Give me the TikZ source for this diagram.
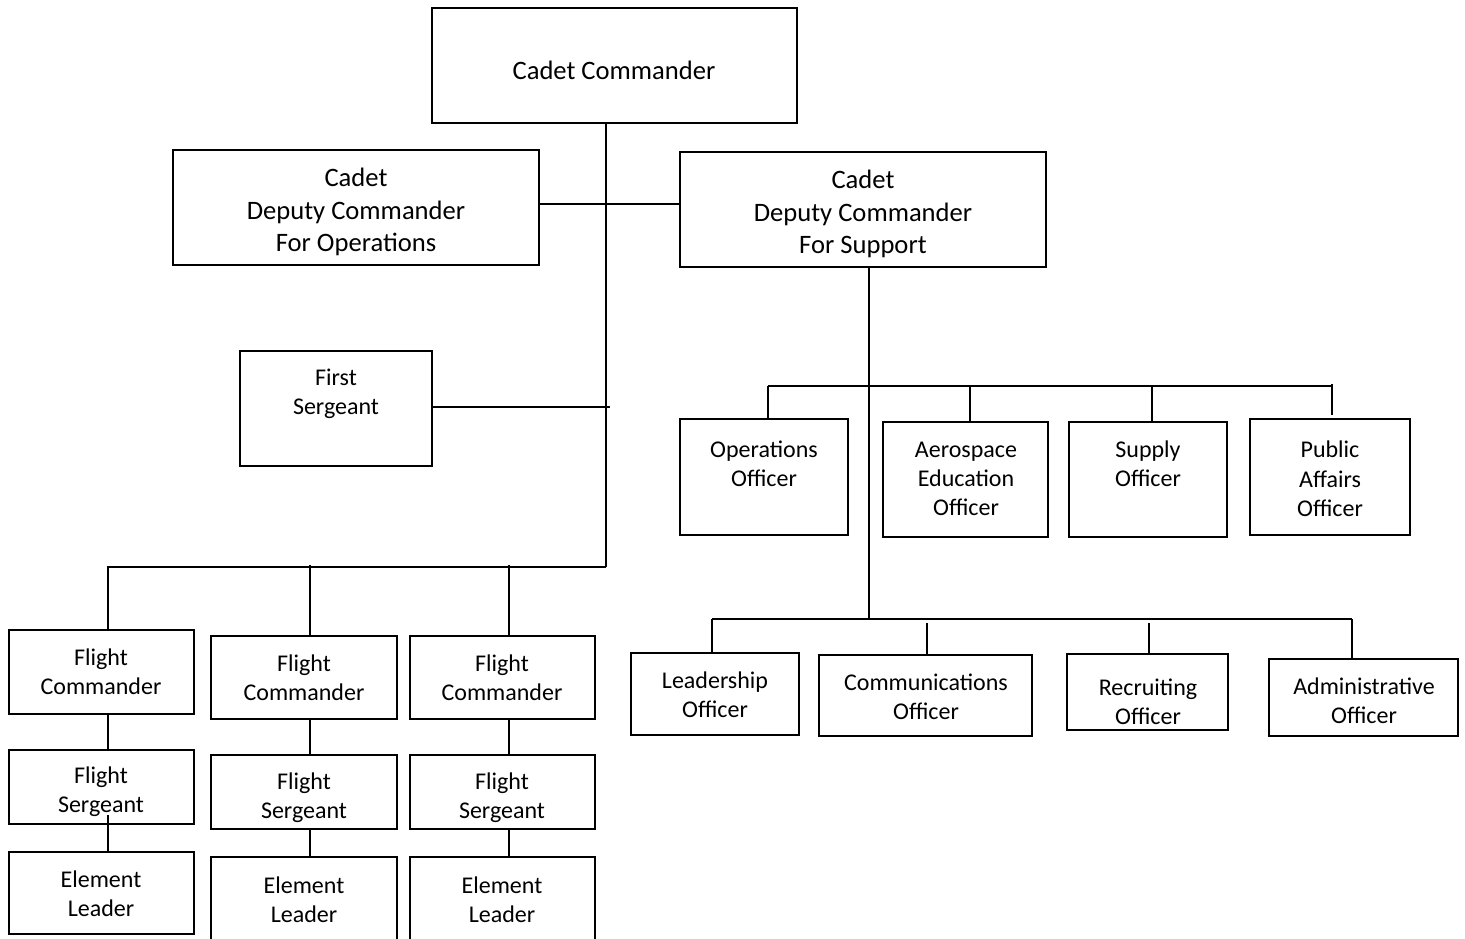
\documentclass[tikz,border=0pt]{standalone}
\usepackage{fontspec}
\setmainfont{Carlito}
\begin{document}
\begin{tikzpicture}[x=1pt,y=-1pt,
  box/.style={draw=black,line width=2pt,fill=white,inner sep=0pt},
  big/.style={font=\fontsize{26.6}{32.5}\selectfont,align=center,inner sep=0pt},
  sml/.style={font=\fontsize{24}{29.3}\selectfont,align=center,inner sep=0pt},
  link/.style={line width=2pt,draw=black}]
\useasboundingbox (0,0) rectangle (1465,938);
% junction coordinates
\coordinate (j1) at (606,204);
\coordinate (j2) at (610,407);
\coordinate (j3) at (606,567);
\coordinate (j4) at (107,567);
\coordinate (s1) at (869,386);
\coordinate (s2) at (869,619);
\coordinate (s3) at (768,386);
\coordinate (s4) at (1332,386);
\coordinate (s5) at (712,619);
\coordinate (s6) at (1352,619);
% boxes
\node[box,minimum width=365pt,minimum height=115pt] (cc) at (614.5,65.5) {};
\node[box,minimum width=366pt,minimum height=115pt] (dops) at (356,207.5) {};
\node[box,minimum width=366pt,minimum height=115pt] (dsup) at (863,209.5) {};
\node[box,minimum width=192pt,minimum height=115pt] (fs) at (336,408.5) {};
\node[box,minimum width=168pt,minimum height=116pt] (opo) at (764,477) {};
\node[box,minimum width=165pt,minimum height=115pt] (aeo) at (965.5,479.5) {};
\node[box,minimum width=158pt,minimum height=115pt] (spo) at (1148,479.5) {};
\node[box,minimum width=160pt,minimum height=116pt] (pao) at (1330,477) {};
\node[box,minimum width=168pt,minimum height=82pt] (ldo) at (715,694) {};
\node[box,minimum width=213pt,minimum height=81pt] (cmo) at (925.5,695.5) {};
\node[box,minimum width=161pt,minimum height=76pt] (rco) at (1147.5,692) {};
\node[box,minimum width=189pt,minimum height=77pt] (ado) at (1363.5,697.5) {};
\node[box,minimum width=185pt,minimum height=84pt] (fc1) at (101.5,672) {};
\node[box,minimum width=186pt,minimum height=83pt] (fc2) at (304,677.5) {};
\node[box,minimum width=185pt,minimum height=83pt] (fc3) at (502.5,677.5) {};
\node[box,minimum width=185pt,minimum height=74pt] (fs1) at (101.5,787) {};
\node[box,minimum width=186pt,minimum height=74pt] (fs2) at (304,792) {};
\node[box,minimum width=185pt,minimum height=74pt] (fs3) at (502.5,792) {};
\node[box,minimum width=185pt,minimum height=82pt] (el1) at (101.5,893) {};
\node[box,minimum width=186pt,minimum height=93pt] (el2) at (304,903.5) {};
\node[box,minimum width=185pt,minimum height=93pt] (el3) at (502.5,903.5) {};
% texts
\node[big] (cct) at (614,70) {Cadet Commander};
\node[big] (dopst) at (356,212) {Cadet\\Deputy Commander\\For Operations};
\node[big] (dsupt) at (863,214) {Cadet\\Deputy Commander\\For Support};
\node[sml] (fst) at (336,394) {First\\Sergeant};
\node[sml] (opot) at (764,464) {Operations\\Officer};
\node[sml] (aeot) at (966,479) {Aerospace\\Education\\Officer};
\node[sml] (spot) at (1148,464) {Supply\\Officer};
\node[sml] (paot) at (1330,479) {Public\\Affairs\\Officer};
\node[sml] (ldot) at (715,695) {Leadership\\Officer};
\node[sml] (cmot) at (926,697) {Communications\\Officer};
\node[sml] (rcot) at (1148,702) {Recruiting\\Officer};
\node[sml] (adot) at (1364,701) {Administrative\\Officer};
\node[sml] (fc1t) at (101,672) {Flight\\Commander};
\node[sml] (fc2t) at (304,678) {Flight\\Commander};
\node[sml] (fc3t) at (502,678) {Flight\\Commander};
\node[sml] (fs1t) at (101,792) {Flight\\Sergeant};
\node[sml] (fs2t) at (304,798) {Flight\\Sergeant};
\node[sml] (fs3t) at (502,798) {Flight\\Sergeant};
\node[sml] (el1t) at (101,894) {Element\\Leader};
\node[sml] (el2t) at (304,900) {Element\\Leader};
\node[sml] (el3t) at (502,900) {Element\\Leader};
% left trunk
\draw[link] (cc.south -| j3) -- (j3);
\draw[link] (dops.east |- j1) -- (dsup.west |- j1);
\draw[link] (fs.east |- j2) -- (j2);
\draw[link] (j3) -- (j4);
\draw[link] (108,567) -- (fc1.north -| 108,0);
\draw[link] (310,565) -- (fc2.north -| 310,0);
\draw[link] (509,565) -- (fc3.north -| 509,0);
\draw[link] (fc1.south -| 108,0) -- (fs1.north -| 108,0);
\draw[link] (108,815) -- (el1.north -| 108,0);
\draw[link] (fc2.south -| 310,0) -- (fs2.north -| 310,0);
\draw[link] (fs2.south -| 310,0) -- (el2.north -| 310,0);
\draw[link] (fc3.south -| 509,0) -- (fs3.north -| 509,0);
\draw[link] (fs3.south -| 509,0) -- (el3.north -| 509,0);
% right trunk
\draw[link] (dsup.south -| s2) -- (s2);
\draw[link] (s3) -- (s4);
\draw[link] (s3) -- (opo.north -| s3);
\draw[link] (970,386) -- (aeo.north -| 970,0);
\draw[link] (1152,386) -- (spo.north -| 1152,0);
\draw[link] (1332,384) -- (1332,415);
\draw[link] (s5) -- (s6);
\draw[link] (s5) -- (ldo.north -| s5);
\draw[link] (927,623) -- (cmo.north -| 927,0);
\draw[link] (1149,623) -- (rco.north -| 1149,0);
\draw[link] (s6) -- (ado.north -| s6);
\end{tikzpicture}
\end{document}
